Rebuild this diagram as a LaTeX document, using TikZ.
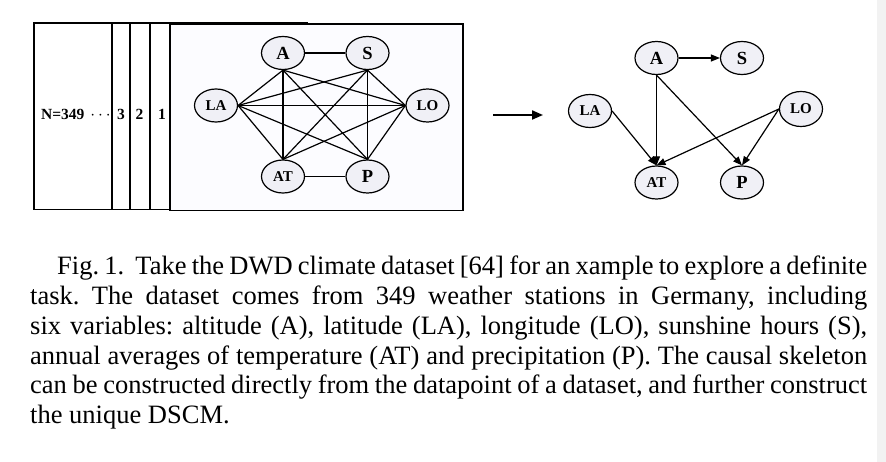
\documentclass[tikz,border=0pt]{standalone}
\usepackage{fontspec}
\setmainfont{Liberation Serif}
\usetikzlibrary{shapes.geometric,arrows.meta}
\definecolor{nodefill}{RGB}{240,240,246}
\definecolor{framefill}{RGB}{252,252,255}
\frenchspacing
\begin{document}
\begin{tikzpicture}[x=1pt,y=-1pt,
  vnode/.style={ellipse,draw,line width=1.2pt,fill=nodefill,minimum width=43pt,minimum height=33pt,inner sep=0pt,font=\bfseries\fontsize{18.5}{18.5}\selectfont},
  snode/.style={vnode,font=\bfseries\fontsize{15}{15}\selectfont},
  edge/.style={line width=1.2pt},
  arr/.style={line width=1.2pt,-{Triangle[length=9pt,width=7pt]}},
  framebox/.style={draw,line width=1.5pt,fill=white},
  lbl/.style={inner sep=0pt,font=\bfseries\fontsize{15.5}{15.5}\selectfont},
  captext/.style={anchor=base west,inner sep=0pt,font=\fontsize{26.5}{30}\selectfont}]
\useasboundingbox (0,0) rectangle (886,462);
\fill[gray!10] (877,0) rectangle (886,462);
% stacked data frames
\draw[framebox] (34,23) rectangle (307,209.5);
\draw[framebox] (112,23) rectangle (307,209.5);
\draw[framebox] (130,23) rectangle (307,209.5);
\draw[framebox] (150,23) rectangle (307,209.5);
\draw[framebox,fill=framefill] (170,23.8) rectangle (463,210.3);
\node[lbl,anchor=west] (N) at (41,114) {N=349\hspace{6pt}{\fontsize{19}{19}\selectfont$\cdots$}};
\node[lbl] (n3) at (121,114) {3};
\node[lbl] (n2) at (139.5,114) {2};
\node[lbl] (n1) at (162,114) {1};
% skeleton
\node[vnode] (A) at (283,53) {A};
\node[vnode] (S) at (367.5,53) {S};
\node[snode] (LA) at (216,105.5) {LA};
\node[snode] (LO) at (427.5,105.5) {LO};
\node[snode] (AT) at (283,176.5) {AT};
\node[vnode] (P) at (367.5,176.5) {P};
\draw[edge] (A) -- (S);
\draw[edge] (AT) -- (P);
\foreach \t in {A.south,S.south,LO.west,AT.north,P.north}
  \draw[edge] (LA.east) -- (\t);
\foreach \t in {AT.north,LO.west,P.north}
  \draw[edge] (A.south) -- (\t);
\foreach \t in {AT.north,LO.west,P.north}
  \draw[edge] (S.south) -- (\t);
\foreach \t in {AT.north,P.north}
  \draw[edge] (LO.west) -- (\t);
% big arrow
\coordinate (b1) at (493,115);
\coordinate (b2) at (543,115);
\draw[line width=2pt,-{Triangle[length=11pt,width=9pt]}] (b1) -- (b2);
% DSCM
\node[vnode] (A2) at (656.5,58) {A};
\node[vnode] (S2) at (742,58) {S};
\node[snode] (LA2) at (590,111) {LA};
\node[snode,minimum height=35pt] (LO2) at (801,109) {LO};
\node[snode] (AT2) at (656.5,182.5) {AT};
\node[vnode] (P2) at (742,182.5) {P};
\draw[arr] (A2.east) -- (S2.west);
\draw[arr] (A2.south) -- (AT2.north);
\draw[arr] (A2.south) -- (P2.north);
\draw[arr] (LA2.east) -- (AT2.north);
\draw[arr] (LO2.west) -- (AT2.north);
\draw[arr] (LO2.west) -- (P2.north);
% caption
\node[captext] (c1) at (57,275) {\makebox[810pt][s]{Fig. 1.\hspace{6pt} Take the DWD climate dataset [64] for an xample to explore a definite}};
\node[captext] (c2) at (30,304.7) {\makebox[837pt][s]{task. The dataset comes from 349 weather stations in Germany, including}};
\node[captext] (c3) at (30,334.4) {\makebox[837pt][s]{six variables: altitude (A), latitude (LA), longitude (LO), sunshine hours (S),}};
\node[captext] (c4) at (30,364.1) {\makebox[837pt][s]{annual averages of temperature (AT) and precipitation (P). The causal skeleton}};
\node[captext] (c5) at (30,393.8) {\makebox[837pt][s]{can be constructed directly from the datapoint of a dataset, and further construct}};
\node[captext] (c6) at (30,423.5) {the unique DSCM.};
\end{tikzpicture}
\end{document}
